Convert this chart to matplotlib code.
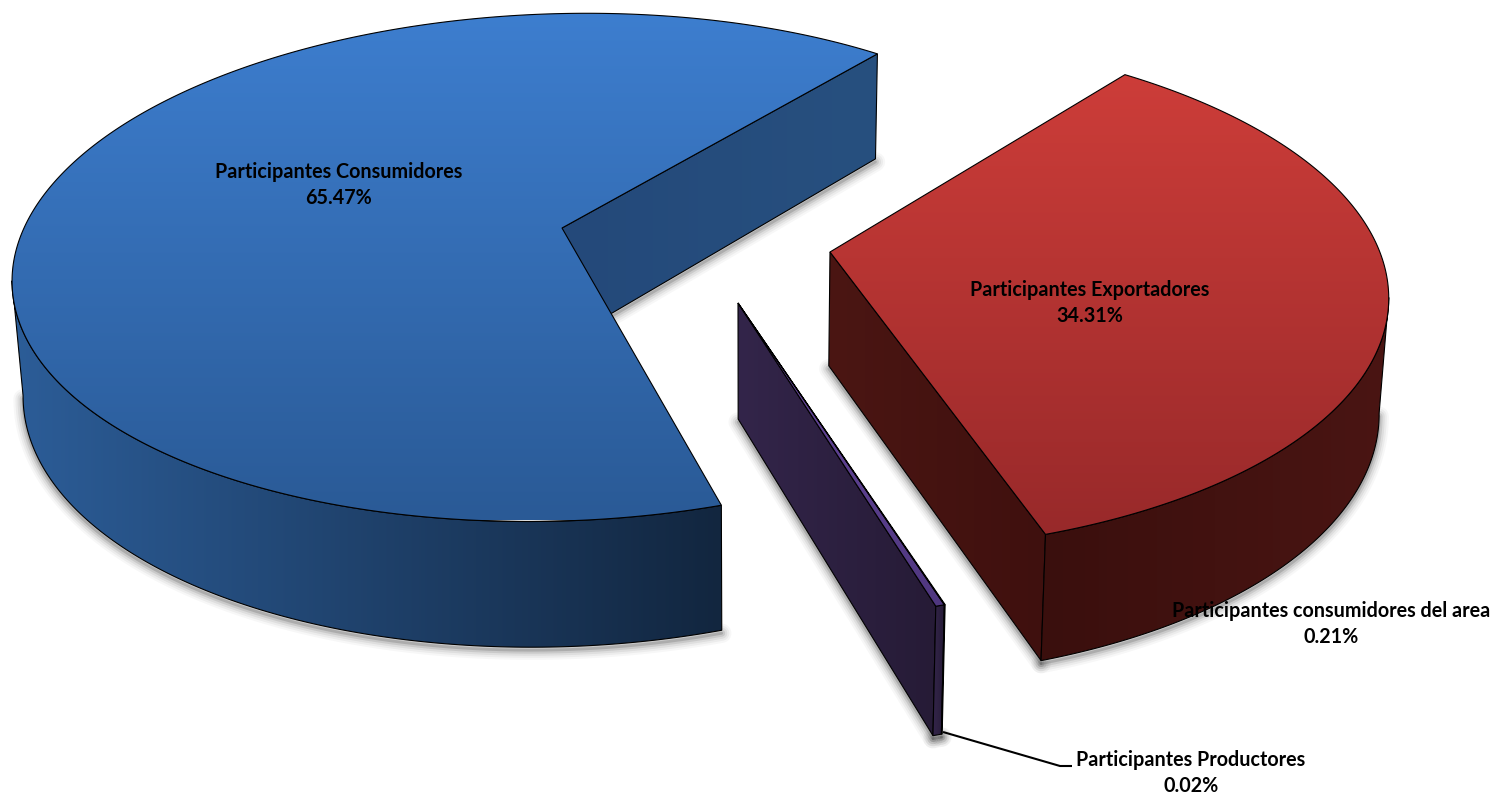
import numpy as np
import matplotlib
matplotlib.use("Agg")
import matplotlib.pyplot as plt
from matplotlib.patches import Polygon
from matplotlib.colors import LinearSegmentedColormap

# ---- data ----
categories = ["Participantes Consumidores", "Participantes consumidores del area",
              "Participantes Productores", "Participantes Exportadores"]
shares = [65.47, 0.21, 0.02, 34.31]
labels_pct = ["65.47%", "0.21%", "0.02%", "34.31%"]

W, H = 1497, 795
START = 51.9
A, B = 538.0, 248.0
VX = 748.0
TAPER = 0.985
apex = [(562, 228), (738, 303), (738, 303), (830, 252)]
scale = [1.0, 1.095, 1.095, 1.022]
persp = [0.155, 0.1494, 0.1494, 0.155]
rot = [0.1, -0.7, -0.7, -0.2]
top_cols = [("#3D7ECF", "#2A5A96", 12, 520), ("#6A4A9E", "#4F3780", 300, 610),
            ("#101018", "#101018", 300, 610), ("#CD3D39", "#98292A", 73, 535)]
wall_cols = [("#2C5D98", "#12263F"), ("#33254A", "#261B36"), ("#050508", "#050508"), ("#3A0F0D", "#4A1513")]
inner_cols = [("#24497A", "#27507F"), ("#33254A", "#261B36"), ("#050508", "#050508"), ("#4B1613", "#3F100E")]
label_pos = [(339, 185), (1331, 624), (1191, 773), (1090, 303)]

fig = plt.figure(figsize=(W / 100, H / 100), dpi=100)
ax = fig.add_axes([0, 0, 1, 1])


def top_pt(i, theta):
    theta = theta + np.radians(rot[i])
    u, v = np.cos(theta), np.sin(theta)
    s = 1 / (1 + persp[i] * v)
    cx, cy = apex[i]
    return (cx + (cx - VX) * (s - 1) + A * scale[i] * u * s,
            cy - B * scale[i] * v * s)


def low_pt(p):
    x, y = p
    return (VX + (x - VX) * TAPER, y + 105 + (y - 53) * 0.0442)


def shadow(pts):
    arr = np.array(pts) + np.array([0, 3])
    for lw, al in [(14, 0.03), (11, 0.045), (8, 0.06), (5, 0.09), (2, 0.14)]:
        ax.plot(arr[:, 0], arr[:, 1], color="black", lw=lw, alpha=al, zorder=1,
                solid_capstyle="round", solid_joinstyle="round")


def gradient_fill(poly, c0, c1, extent, vertical, z, name):
    cm = LinearSegmentedColormap.from_list(name, [c0, c1])
    ramp = np.linspace(0, 1, 256)
    data = ramp[:, None] if vertical else ramp[None, :]
    im = ax.imshow(data, cmap=cm, aspect="auto", extent=extent, zorder=z, interpolation="bilinear")
    im.set_clip_path(Polygon(poly, closed=True, transform=ax.transData))
    ax.add_patch(Polygon(poly, closed=True, fc="none", ec="black", lw=0.8, zorder=z + 0.05))


angles = np.cumsum([0] + shares) / sum(shares) * 360 + START
for i in range(len(shares)):
    t0, t1 = np.radians(angles[i]), np.radians(angles[i + 1])
    ts = np.linspace(t0, t1, max(3, int((t1 - t0) * 90)))
    arc = [top_pt(i, t) for t in ts]
    ap = tuple(apex[i])
    z = 3 + i
    xs = np.array([p[0] for p in arc])

    # part of the rim that faces the viewer
    if i == 0:
        front = arc[int(np.argmin(xs)):]
    elif i == 3:
        front = arc[:int(np.argmax(xs)) + 1]
    else:
        front = arc
    low_fr = [low_pt(p) for p in front]

    # straight cut face that is visible (none for the thinnest slice)
    if i != 2:
        inner = [ap, arc[0]]
        low_in = [low_pt(p) for p in inner]
        shadow(low_in)
        poly = inner + low_in[::-1]
        x0, x1 = min(p[0] for p in poly), max(p[0] for p in poly)
        gradient_fill(poly, inner_cols[i][0], inner_cols[i][1], (x0, x1, H, 0), False, z, "in%d" % i)

    shadow(low_fr)
    poly = front + low_fr[::-1]
    x0, x1 = min(p[0] for p in poly), max(p[0] for p in poly)
    gradient_fill(poly, wall_cols[i][0], wall_cols[i][1], (x0, x1, H, 0), False, z + 0.1, "w%d" % i)

    c0, c1, y0, y1 = top_cols[i]
    gradient_fill([ap] + arc, c0, c1, (0, W, y1, y0), True, z + 0.2, "t%d" % i)

ax.set_xlim(0, W)
ax.set_ylim(H, 0)
ax.axis("off")

# leader line for the smallest slice
ax.plot([943, 1060, 1072], [732, 766, 766], color="black", lw=1.5, zorder=9, solid_capstyle="butt")

font = dict(family="Lato", fontweight="bold", fontsize=14.2, color="black", ha="center",
            va="center", linespacing=1.4, zorder=10)
for name, pct, (x, y) in zip(categories, labels_pct, label_pos):
    ax.text(x, y, name + "\n" + pct, **font)

fig.savefig("out.png", dpi=100)
